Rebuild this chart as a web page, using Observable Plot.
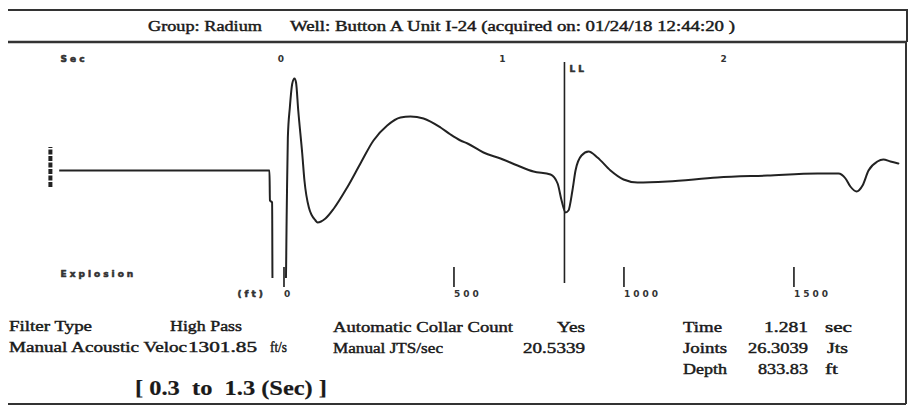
<!DOCTYPE html>
<html><head><meta charset="utf-8">
<script src="https://cdn.jsdelivr.net/npm/d3@7"></script>
<script src="https://cdn.jsdelivr.net/npm/@observablehq/plot@0.6"></script>
<style>
html,body{margin:0;padding:0;background:#fff;}
#wrap{position:relative;width:913px;height:409px;overflow:hidden;background:#fff;}
#chart{position:absolute;left:0;top:42px;}
#overlay{position:absolute;left:0;top:0;pointer-events:none;}
</style></head><body>
<div id="wrap"><div id="chart"></div><svg id="overlay" width="913" height="409"></svg></div>
<script>
// ---- data ----
const tSec = [-1.010,-0.052,-0.050,-0.040,-0.038,0.020,0.026,0.031,0.040,0.051,0.061,0.068,0.078,0.096,0.106,0.126,0.156,0.165,0.201,0.239,0.299,0.359,0.418,0.480,0.540,0.585,0.644,0.721,0.766,0.811,0.843,0.915,0.992,1.069,1.141,1.218,1.250,1.268,1.286,1.299,1.317,1.331,1.358,1.390,1.430,1.489,1.548,1.611,1.746,1.972,2.198,2.424,2.519,2.551,2.573,2.601,2.628,2.655,2.695,2.722,2.754,2.790];
const amp  = [0,0,-0.30,-0.32,-1.40,-1.40,-0.40,0.33,0.63,0.87,0.92,0.88,0.60,0.17,-0.10,-0.37,-0.50,-0.52,-0.48,-0.38,-0.17,0.07,0.30,0.45,0.53,0.54,0.52,0.43,0.36,0.30,0.27,0.18,0.12,0.05,-0.01,-0.04,-0.13,-0.30,-0.42,-0.40,-0.20,0.00,0.15,0.19,0.13,0.00,-0.09,-0.12,-0.11,-0.07,-0.05,-0.03,-0.03,-0.08,-0.16,-0.21,-0.15,0.00,0.09,0.11,0.09,0.07];
const secTicks = [0, 1, 2];
const ftTicks = [0, 500, 1000, 1500];
const velocity = 1301.85;      // ft/s
const llTime = 1.281;          // sec
const titleGroup = "Group: Radium";
const titleWell = "Well: Button A Unit I-24 (acquired on: 01/24/18 12:44:20 )";
const caption = "[ 0.3  to  1.3 (Sec) ]";

const ftPerSec = velocity / 2;
const trace = tSec.map((t, i) => ({t, a: amp[i]}));
const ink = "#222";
const lab = {fill: "#333", stroke: "#333", strokeWidth: 0.6};

const plot = Plot.plot({
  width: 913, height: 270,
  marginTop: 20, marginBottom: 34, marginLeft: 59.2, marginRight: 12.9,
  style: "font-family: 'DejaVu Sans'; font-weight: bold; font-size: 9px; letter-spacing: 3px; background: transparent; color: #333; overflow: visible;",
  x: {domain: [-1, 2.8], label: null},
  y: {domain: [-1.08, 1.08], axis: null, label: null},
  marks: [
    Plot.axisX(secTicks, {anchor: "top", tickSize: 0, tickPadding: 1, dx: 1.5, ...lab, label: null, tickFormat: d => String(d)}),
    Plot.axisX(ftTicks.map(f => f / ftPerSec), {anchor: "bottom", tickSize: 20, tickPadding: 3, stroke: "#333", strokeWidth: 1.8,
      textAnchor: "start", dx: 3, dy: -11, fill: "#333", label: null,
      tickFormat: d => String(Math.round(d * ftPerSec))}),
    Plot.text(["Sec"], {x: -0.996, y: 1.11, textAnchor: "start", ...lab}),
    Plot.text(["Explosion"], {x: -0.996, y: -1.035, textAnchor: "start", ...lab}),
    Plot.text(["(ft)"], {x: -0.197, y: -1.24, textAnchor: "start", ...lab}),
    Plot.ruleX([-1.042], {y1: -0.17, y2: 0.23, stroke: ink, strokeWidth: 4, strokeDasharray: "5,1.5"}),
    Plot.ruleX([llTime], {y1: -1.13, y2: 1.08, stroke: ink, strokeWidth: 1.6}),
    Plot.text(["LL"], {x: llTime, y: 1.01, dx: 5, textAnchor: "start", ...lab}),
    Plot.line(trace, {x: "t", y: "a", curve: "monotone-x", stroke: ink, strokeWidth: 2, clip: true})
  ]
});
document.getElementById("chart").appendChild(plot);

// ---- frame and text panel ----
const ov = d3.select("#overlay");
const lines = [
  [8, 10, 908, 10, 2], [907, 10, 907, 42, 2], [8, 42, 907, 42, 2.5],
  [906, 42, 906, 404, 2], [8, 404, 906, 404, 2]
];
ov.selectAll("line").data(lines).join("line")
  .attr("x1", d => d[0]).attr("y1", d => d[1]).attr("x2", d => d[2]).attr("y2", d => d[3])
  .attr("stroke", "#333").attr("stroke-width", d => d[4]);

const texts = [
  {s: titleGroup, x: 148, y: 31, len: 114, size: 15},
  {s: titleWell, x: 290, y: 31, len: 445, size: 15},
  {s: "Filter Type", x: 9, y: 331, len: 83},
  {s: "High Pass", x: 170, y: 331, len: 72},
  {s: "Automatic Collar Count", x: 333, y: 332, len: 180},
  {s: "Yes", x: 557, y: 332, len: 28},
  {s: "Time", x: 683, y: 332, len: 39},
  {s: "1.281", x: 764, y: 332, len: 44},
  {s: "sec", x: 825, y: 332, len: 27},
  {s: "Manual Acoustic Veloc", x: 9, y: 352, len: 178},
  {s: "1301.85", x: 188, y: 352, len: 69},
  {s: "ft/s", x: 270, y: 352, len: 17},
  {s: "Manual JTS/sec", x: 333, y: 353, len: 110},
  {s: "20.5339", x: 523, y: 353, len: 62},
  {s: "Joints", x: 683, y: 353, len: 44},
  {s: "26.3039", x: 748, y: 353, len: 60},
  {s: "Jts", x: 827, y: 353, len: 21},
  {s: "Depth", x: 683, y: 374, len: 44},
  {s: "833.83", x: 758, y: 374, len: 50},
  {s: "ft", x: 825, y: 374, len: 13},
  {s: caption, x: 135, y: 395, len: 192, size: 21, weight: "bold"}
];
ov.selectAll("text").data(texts).join("text")
  .attr("x", d => d.x).attr("y", d => d.y)
  .attr("textLength", d => d.len).attr("lengthAdjust", "spacingAndGlyphs")
  .attr("font-family", "'Liberation Serif', serif")
  .attr("font-size", d => d.size || 15)
  .attr("font-weight", d => d.weight || "normal")
  .attr("fill", "#1a1a1a")
  .attr("stroke", "#1a1a1a").attr("stroke-width", d => d.weight ? 0.2 : 0.45)
  .attr("xml:space", "preserve")
  .style("white-space", "pre")
  .text(d => d.s);
</script>
</body></html>
